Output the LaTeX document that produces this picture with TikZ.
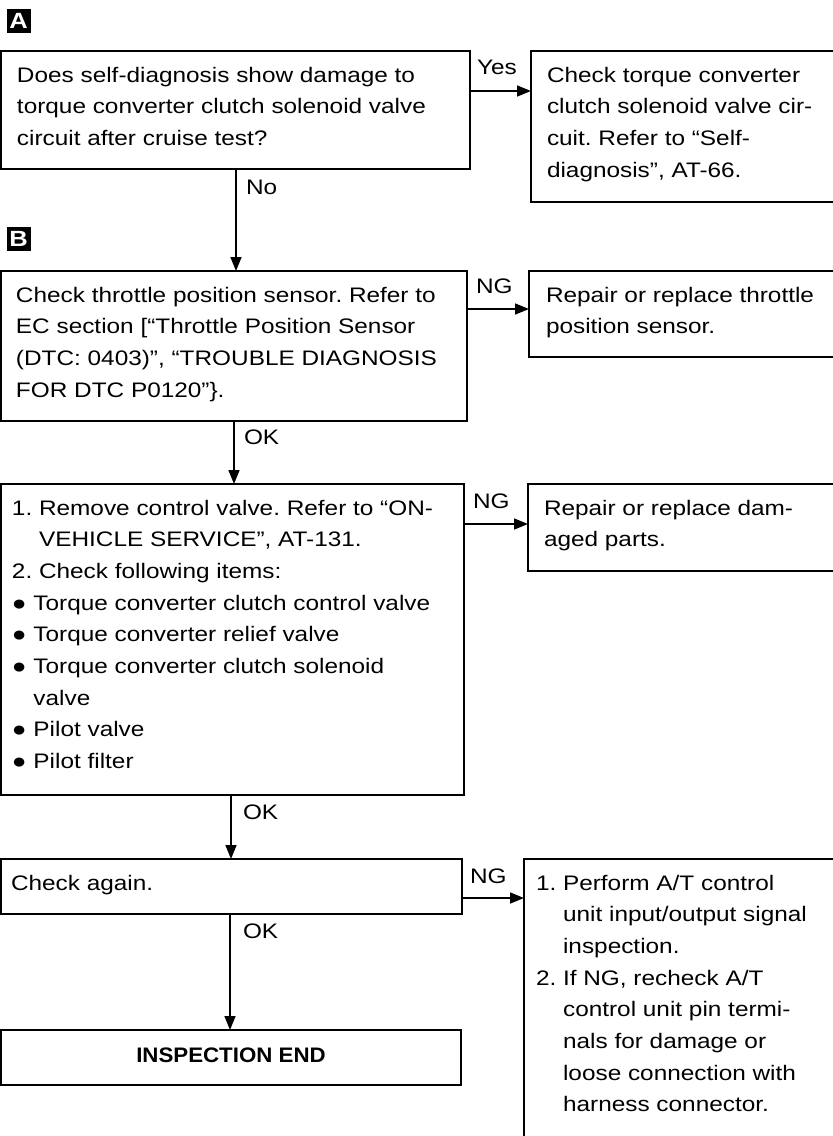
\documentclass[tikz,border=0pt]{standalone}
\usepackage{fontspec}
\usepackage{graphicx}
\setmainfont{Liberation Sans}[FakeStretch=1.16]
\usetikzlibrary{arrows.meta}
\frenchspacing
\newcommand{\flowtext}[4]{\parbox[t][#2pt][t]{#1pt}{\frenchspacing\raggedright\leftskip=#3pt\relax\rule{0pt}{31pt}#4}}
\newcommand{\hang}{\hphantom{1.\ }}
\tikzset{
  flow/.style={draw, line width=1.6pt, inner sep=0pt, outer sep=0pt, anchor=north west,
    font=\fontsize{21}{31.7}\selectfont},
  lbl/.style={anchor=base west, inner sep=0pt, outer sep=0pt, font=\fontsize{21}{31.7}\selectfont},
  arr/.style={line width=1.6pt, -{Triangle[length=14pt,width=11pt]}},
  secmark/.style={fill=black, text=white, minimum size=24pt, inner sep=0pt,
    font=\bfseries\fontsize{22}{22}\selectfont}
}
\begin{document}
\begin{tikzpicture}[x=1pt,y=-1pt]
\useasboundingbox (0,0) rectangle (833,1136);
\clip (0,0) rectangle (833,1136);
% section markers
\node[secmark] (mA) at (18.5,21) {A};
\node[secmark] (mB) at (18.5,239) {B};
% boxes
\node[flow] (b1) at (1,51) {\flowtext{469}{118}{16}{Does self-diagnosis show damage to\\
torque converter clutch solenoid valve\\
circuit after cruise test?}};
\node[flow] (r1) at (531,51) {\flowtext{320}{151}{16}{Check torque converter\\
clutch solenoid valve cir-\\
cuit. Refer to ``Self-\\
diagnosis'', AT-66.}};
\node[flow] (b2) at (1,271) {\flowtext{466}{150}{15}{Check throttle position sensor. Refer to\\
EC section [``Throttle Position Sensor\\
(DTC: 0403)'', ``TROUBLE DIAGNOSIS\\
FOR DTC P0120''\}.}};
\node[flow] (r2) at (529,271) {\flowtext{320}{86}{17}{Repair or replace throttle\\
position sensor.}};
\node[flow] (b3) at (1,484) {\flowtext{463}{311}{11}{1. Remove control valve. Refer to ``ON-\\
\hang VEHICLE SERVICE'', AT-131.\\
2. Check following items:\\
● Torque converter clutch control valve\\
● Torque converter relief valve\\
● Torque converter clutch solenoid\\
\hphantom{● }valve\\
● Pilot valve\\
● Pilot filter}};
\node[flow] (r3) at (528,484) {\flowtext{320}{87}{16}{Repair or replace dam-\\
aged parts.}};
\node[flow] (b4) at (1,859) {\flowtext{461}{55}{10}{Check again.}};
\node[flow] (r4) at (524,859) {\flowtext{320}{300}{12}{1. Perform A/T control\\
\hang unit input/output signal\\
\hang inspection.\\
2. If NG, recheck A/T\\
\hang control unit pin termi-\\
\hang nals for damage or\\
\hang loose connection with\\
\hang harness connector.}};
\node[flow] (b5) at (1,1030) {\parbox[t][55pt][t]{460pt}{\centering\rule{0pt}{32pt}\scalebox{0.915}[1]{\bfseries INSPECTION END}}};
% connector coordinates
\coordinate (h1) at (0,91);
\coordinate (h2) at (0,309);
\coordinate (h3) at (0,524);
\coordinate (h4) at (0,898);
\coordinate (v1) at (236,0);
\coordinate (v2) at (234,0);
\coordinate (v3) at (231,0);
\coordinate (v4) at (230,0);
% connectors
\draw[arr] (b1.east |- h1) -- (r1.west |- h1);
\draw[arr] (b2.east |- h2) -- (r2.west |- h2);
\draw[arr] (b3.east |- h3) -- (r3.west |- h3);
\draw[arr] (b4.east |- h4) -- (r4.west |- h4);
\draw[arr] (b1.south -| v1) -- (b2.north -| v1);
\draw[arr] (b2.south -| v2) -- (b3.north -| v2);
\draw[arr] (b3.south -| v3) -- (b4.north -| v3);
\draw[arr] (b4.south -| v4) -- (b5.north -| v4);
% labels
\node[lbl] (lyes) at (477,74.5) {Yes};
\node[lbl] (lno) at (246,194.5) {No};
\node[lbl] (lng1) at (476,293.5) {NG};
\node[lbl] (lok1) at (244,444.5) {OK};
\node[lbl] (lng2) at (473,508.5) {NG};
\node[lbl] (lok2) at (243,819.5) {OK};
\node[lbl] (lng3) at (470,883.5) {NG};
\node[lbl] (lok3) at (243,938.5) {OK};
\end{tikzpicture}
\end{document}
